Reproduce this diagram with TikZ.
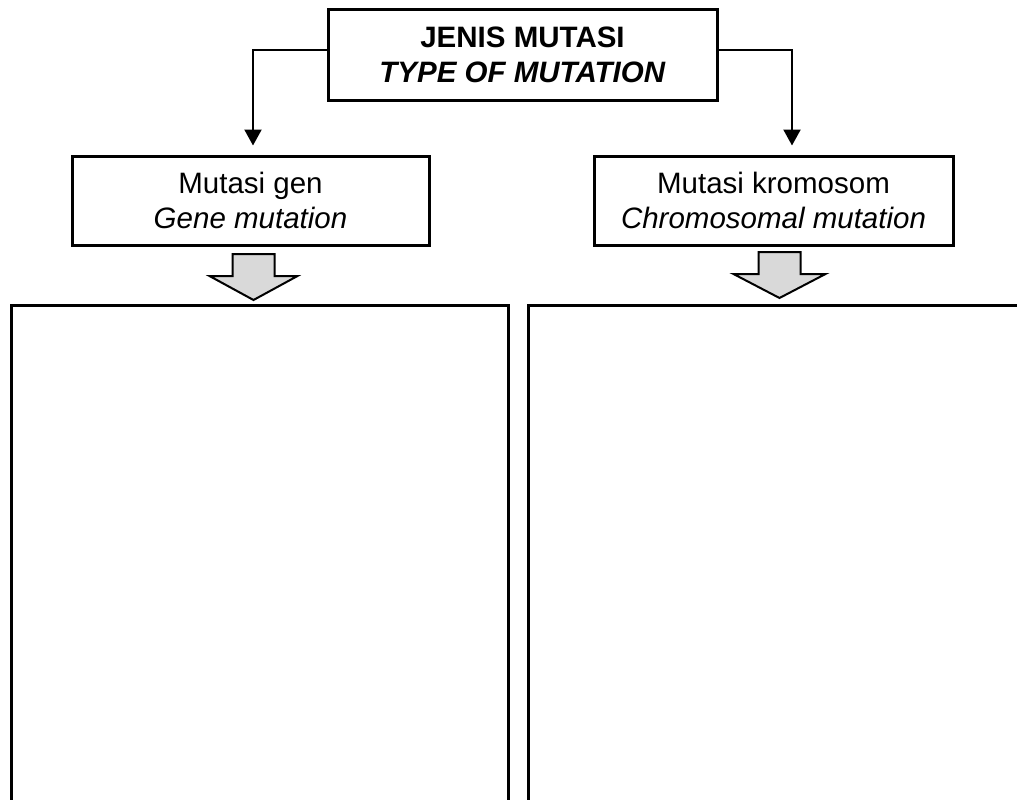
\documentclass[tikz,border=0pt]{standalone}
\usepackage{fontspec}
\setmainfont{Liberation Sans}
\usetikzlibrary{arrows.meta,calc}
\begin{document}
\begin{tikzpicture}[x=1pt,y=-1pt,
  box/.style={draw, line width=3pt, inner sep=0pt, align=center, line join=miter},
  titlebox/.style={box, font=\fontsize{29.5}{35}\selectfont\bfseries},
  kindbox/.style={box, font=\fontsize{29.5}{35}\selectfont},
  panel/.style={draw, line width=3pt, inner sep=0pt, line join=miter},
  conn/.style={line width=2.2pt, -{Triangle[width=17pt,length=16pt]}},
  fatarrow/.style={draw, line width=2pt, fill=gray!30, line join=miter}]
\useasboundingbox (0,0) rectangle (1017,800);
\clip (0,0) rectangle (1017,800);

% heading
\node[titlebox, minimum width=389pt, minimum height=90pt] (type) at (522.5,55)
  {JENIS MUTASI\\\textit{TYPE OF MUTATION}};

% the two kinds
\node[kindbox, minimum width=357pt, minimum height=89pt] (gen) at (250.5,200.5)
  {Mutasi gen\\\textit{Gene mutation}};
\node[kindbox, minimum width=359pt, minimum height=89pt] (kro) at (773.5,200.5)
  {Mutasi kromosom\\\textit{Chromosomal mutation}};

% open writing panels running off the page
\node[panel, minimum width=497pt, minimum height=700pt, anchor=north west] (genpanel) at (10,304) {};
\node[panel, minimum width=530pt, minimum height=700pt, anchor=north west] (kropanel) at (527,304) {};

% branch connectors
\draw[conn] ($(type.west)+(0,-5)$) -| ($(gen.north)+(2.5,-9)$);
\draw[conn] ($(type.east)+(0,-5)$) -| ($(kro.north)+(18.5,-9)$);

% grey block arrows into the panels
\coordinate (ga) at (253.5,254);
\coordinate (ka) at (779.5,252);
\draw[fatarrow] (ga) ++(-21,0) -- ++(0,22) -- ++(-23,0) -- ++(44,24) -- ++(44,-24) -- ++(-23,0) -- ++(0,-22) -- cycle;
\draw[fatarrow] (ka) ++(-21,0) -- ++(0,22) -- ++(-25,0) -- ++(46,24) -- ++(46,-24) -- ++(-25,0) -- ++(0,-22) -- cycle;
\end{tikzpicture}
\end{document}
